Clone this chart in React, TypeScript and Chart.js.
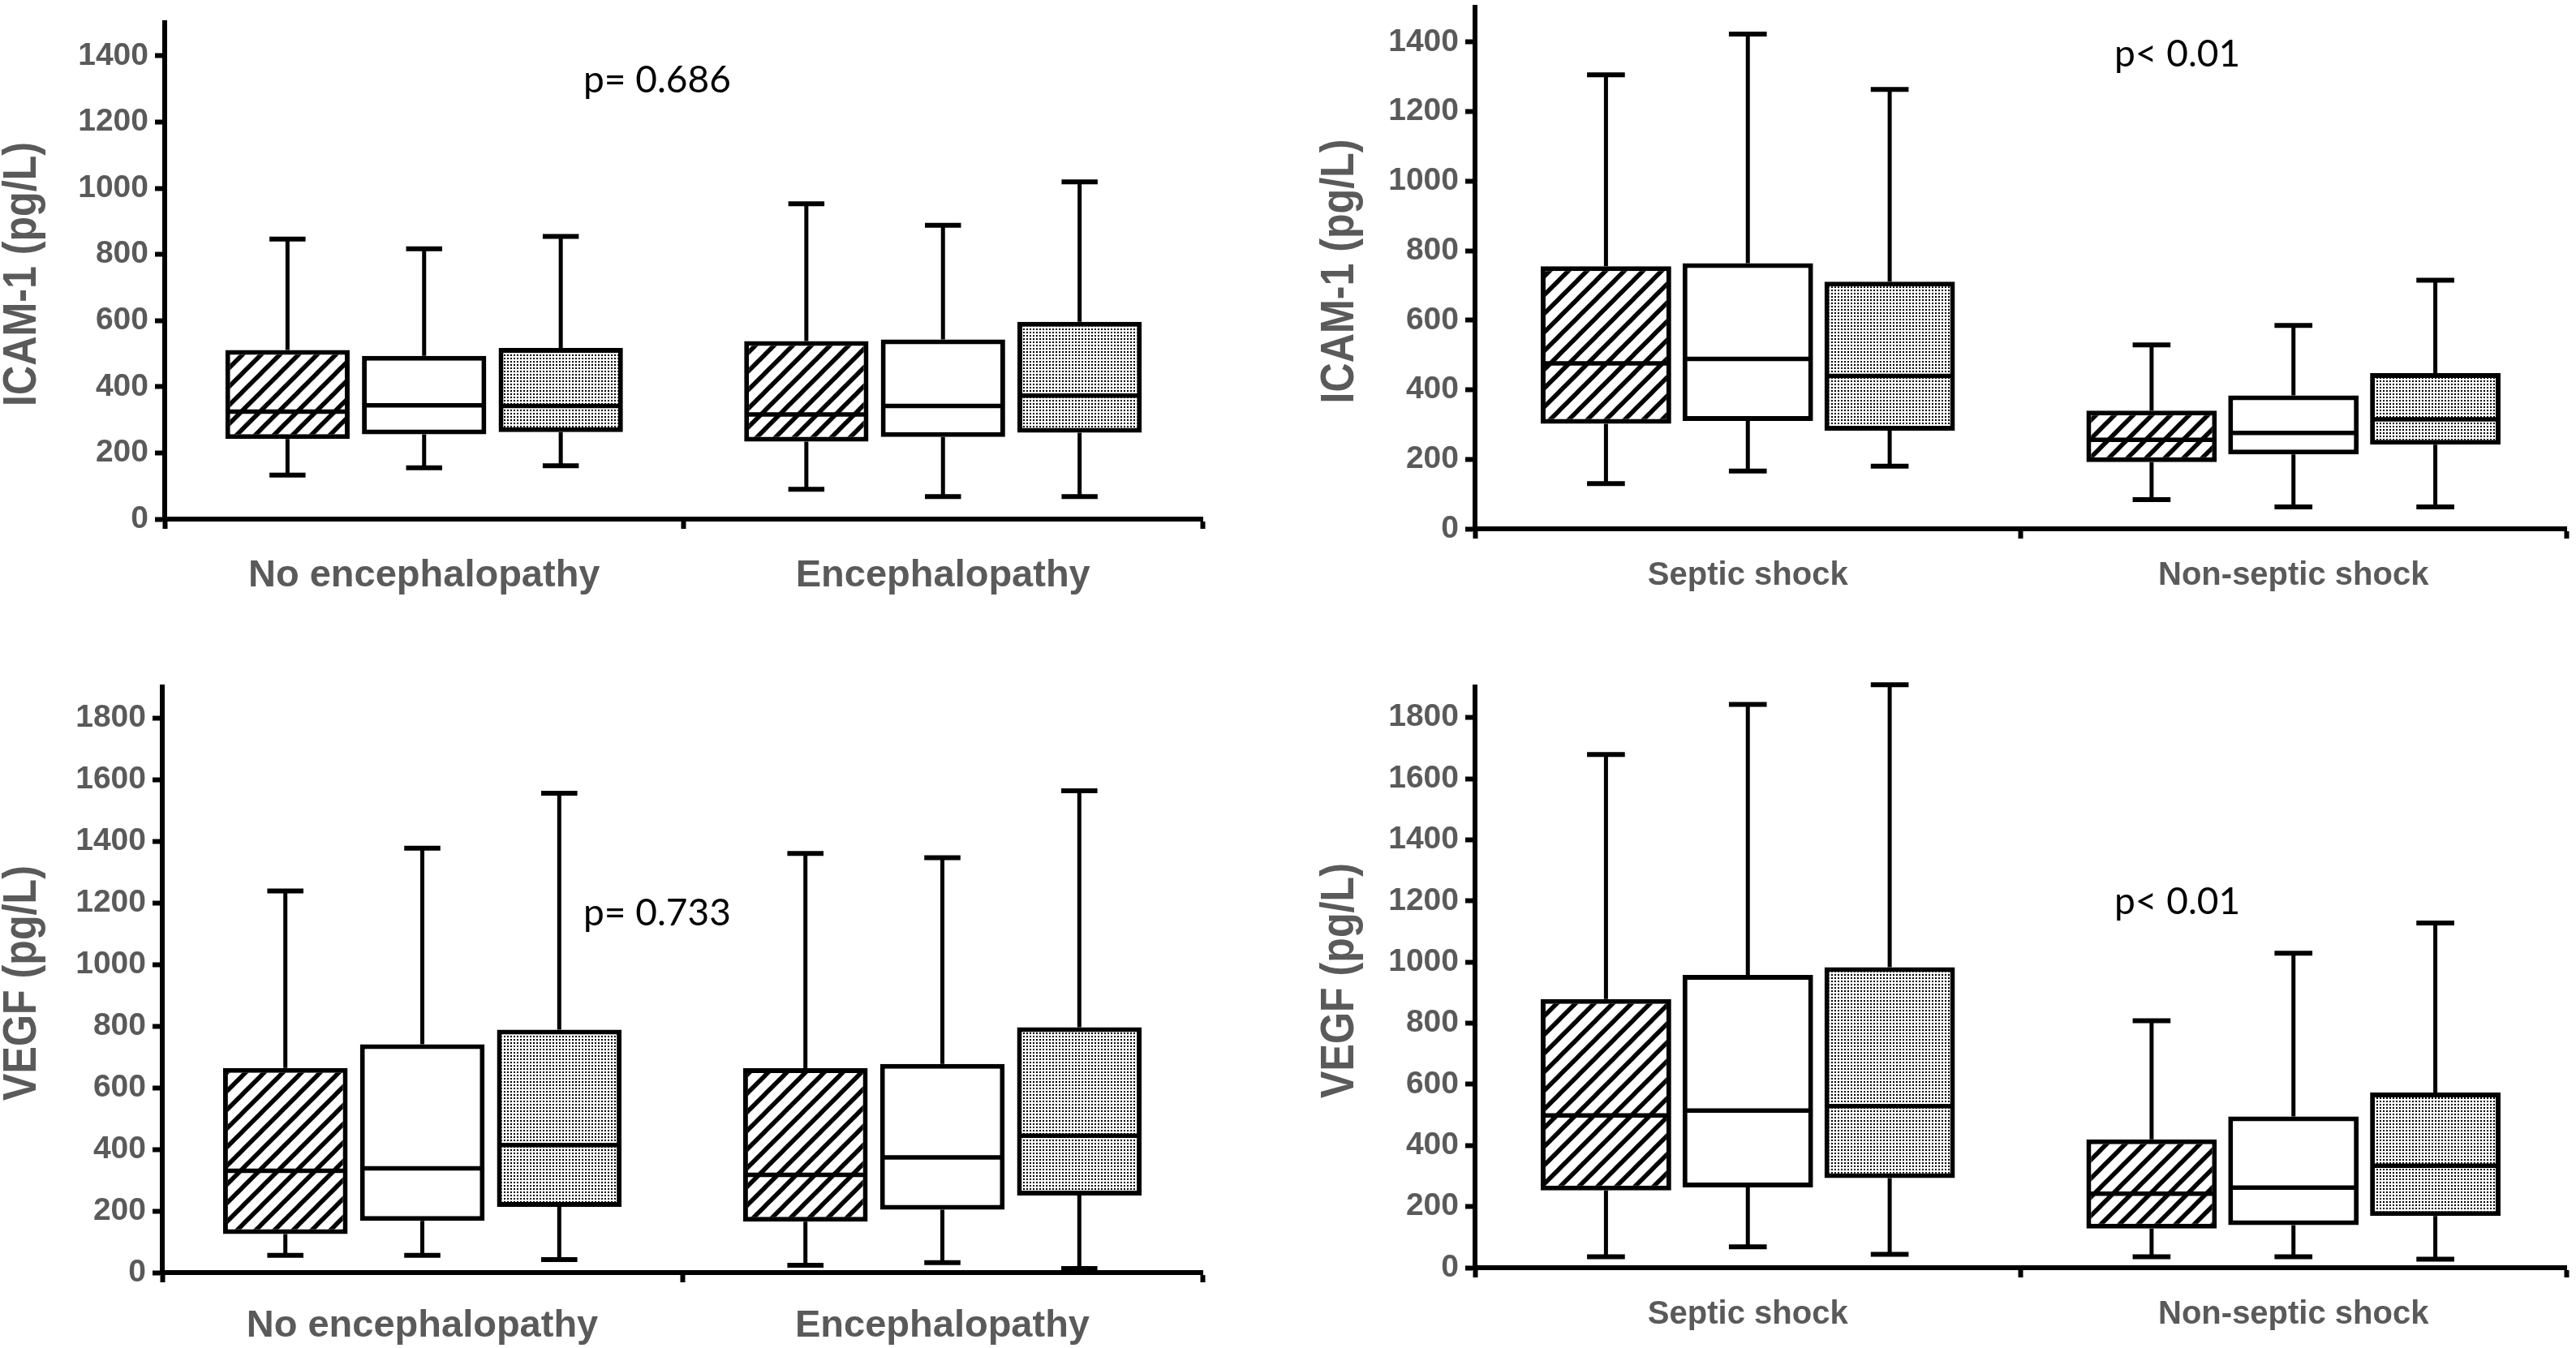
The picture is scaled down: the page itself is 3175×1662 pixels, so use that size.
import React, { useEffect, useRef } from 'react';
import { Chart, registerables } from 'chart.js';

Chart.register(...registerables);

// ---------- DATA ----------
// Each entry: [min, q1, median, q3, max] for one category
const encCategories = ['No encephalopathy', 'Encephalopathy'];
const shockCategories = ['Septic shock', 'Non-septic shock'];

const icamEncHatched = [[133, 242, 325, 511, 846], [90, 234, 316, 538, 953]];
const icamEncOpen = [[155, 256, 344, 493, 817], [68, 248, 342, 543, 888]];
const icamEncDotted = [[161, 263, 342, 517, 854], [68, 261, 373, 596, 1019]];

const vegfEncHatched = [[56, 125, 330, 664, 1238], [24, 165, 317, 663, 1360]];
const vegfEncOpen = [[56, 168, 338, 741, 1377], [32, 204, 374, 677, 1346]];
const vegfEncDotted = [[42, 213, 414, 788, 1555], [13, 250, 444, 796, 1563]];

const icamShockHatched = [[130, 302, 476, 755, 1306], [84, 192, 256, 340, 529]];
const icamShockOpen = [[166, 310, 489, 764, 1423], [63, 214, 276, 384, 585]];
const icamShockDotted = [[180, 282, 440, 711, 1264], [63, 242, 315, 448, 715]];

const vegfShockHatched = [[36, 253, 498, 879, 1679], [36, 128, 242, 420, 808]];
const vegfShockOpen = [[68, 263, 514, 958, 1843], [36, 139, 262, 495, 1029]];
const vegfShockDotted = [[44, 293, 529, 983, 1907], [28, 169, 334, 573, 1128]];

const icamTitle = 'ICAM-1 (pg/L)';
const vegfTitle = 'VEGF (pg/L)';
const icamMax = 1500;
const vegfMax = 1900;
const tickStep = 200;

const pEnc1 = 'p= 0.686';
const pEnc2 = 'p= 0.733';
const pShock = 'p< 0.01';

const FONT = "'Liberation Sans', Arial, sans-serif";
const GREY = '#5a5a5a';

// ---------- PATTERNS ----------
function makeHatch(): CanvasPattern | string {
  const s = 23;
  const c = document.createElement('canvas');
  c.width = s; c.height = s;
  const g = c.getContext('2d');
  if (!g) return '#fff';
  g.fillStyle = '#fff';
  g.fillRect(0, 0, s, s);
  g.strokeStyle = '#000';
  g.lineWidth = 5.5;
  for (const o of [-s, 0, s]) {
    g.beginPath();
    g.moveTo(o - 2, s + 2);
    g.lineTo(o + s + 2, -2);
    g.stroke();
  }
  const ctx = document.createElement('canvas').getContext('2d');
  return ctx ? (ctx.createPattern(c, 'repeat') as CanvasPattern) : '#fff';
}

function makeDots(): CanvasPattern | string {
  const s = 4;
  const c = document.createElement('canvas');
  c.width = s; c.height = s;
  const g = c.getContext('2d');
  if (!g) return '#ccc';
  g.fillStyle = '#fff';
  g.fillRect(0, 0, s, s);
  g.fillStyle = '#000';
  g.fillRect(1, 1, 2, 2);
  const ctx = document.createElement('canvas').getContext('2d');
  return ctx ? (ctx.createPattern(c, 'repeat') as CanvasPattern) : '#ccc';
}

// ---------- WHISKERS / MEDIAN PLUGIN ----------
const boxPlugin = {
  id: 'boxWhiskers',
  afterDatasetsDraw(chart: any) {
    const ctx = chart.ctx;
    const ys = chart.scales.y;
    chart.data.datasets.forEach((ds: any, i: number) => {
      const meta = chart.getDatasetMeta(i);
      meta.data.forEach((el: any, j: number) => {
        const st = ds.stats[j];
        const [mn, q1, md, q3, mx] = st;
        const { x, width } = el.getProps(['x', 'width'], true);
        const py = (v: number) => ys.getPixelForValue(v);
        const half = width / 2;
        const cap = width * 0.29;
        ctx.save();
        ctx.strokeStyle = '#000';
        ctx.lineCap = 'butt';
        ctx.lineWidth = 5;
        ctx.beginPath();
        ctx.moveTo(x, py(q3));
        ctx.lineTo(x, py(mx));
        ctx.moveTo(x, py(q1));
        ctx.lineTo(x, py(mn));
        ctx.stroke();
        ctx.lineWidth = 6;
        ctx.beginPath();
        ctx.moveTo(x - cap / 2, py(mx));
        ctx.lineTo(x + cap / 2, py(mx));
        ctx.moveTo(x - cap / 2, py(mn));
        ctx.lineTo(x + cap / 2, py(mn));
        ctx.stroke();
        ctx.lineWidth = 5.5;
        ctx.beginPath();
        ctx.moveTo(x - half + 3, py(md));
        ctx.lineTo(x + half - 3, py(md));
        ctx.stroke();
        ctx.restore();
      });
    });
  },
};

// ---------- Y TITLE PLUGIN (slightly condensed, rotated) ----------
const yTitlePlugin = {
  id: 'yTitle',
  afterDraw(chart: any, _args: any, opts: any) {
    if (!opts || !opts.text) return;
    const { ctx, chartArea } = chart;
    ctx.save();
    ctx.translate(opts.x, (chartArea.top + chartArea.bottom) / 2 + (opts.dy || 0));
    ctx.rotate(-Math.PI / 2);
    ctx.scale(0.88, 1);
    ctx.font = `bold ${opts.size}px ${FONT}`;
    ctx.fillStyle = GREY;
    ctx.textAlign = 'center';
    ctx.textBaseline = 'middle';
    ctx.fillText(opts.text, 0, 0);
    ctx.restore();
  },
};

type PanelProps = {
  left: number; top: number; width: number; height: number;
  categories: string[];
  series: number[][][];
  yMax: number;
  title: string;
  titleX: number;
  yAxisWidth: number;
  xAxisHeight: number;
  padTop: number;
  padRight: number;
  labelPad: number;
  xFontSize: number;
  catPct: number;
  barPct: number;
};

function Panel(p: PanelProps) {
  const ref = useRef<HTMLCanvasElement>(null);
  useEffect(() => {
    if (!ref.current) return;
    const fills = [makeHatch(), '#ffffff', makeDots()];
    const chart = new Chart(ref.current, {
      type: 'bar',
      data: {
        labels: p.categories,
        datasets: p.series.map((s, i) => ({
          data: s.map((v) => [v[1], v[3]]),
          stats: s,
          backgroundColor: fills[i],
          borderColor: '#000',
          borderWidth: 6,
          borderSkipped: false,
          categoryPercentage: p.catPct,
          barPercentage: p.barPct,
        })) as any,
      },
      options: {
        animation: false,
        responsive: false,
        maintainAspectRatio: false,
        layout: { padding: { top: p.padTop, right: p.padRight, left: 0, bottom: 0 } },
        plugins: {
          legend: { display: false },
          tooltip: { enabled: false },
          yTitle: { text: p.title, x: p.titleX, size: 57, dy: 4 },
        },
        scales: {
          x: {
            type: 'category',
            offset: true,
            grid: { offset: true, drawOnChartArea: false, tickLength: 12, tickWidth: 6, color: '#000' },
            border: { width: 6, color: '#000' },
            ticks: {
              color: GREY,
              font: { family: FONT, weight: 'bold', size: p.xFontSize },
              padding: p.labelPad,
              maxRotation: 0,
            },
            afterFit: (s: any) => { s.height = p.xAxisHeight; s.paddingLeft = 0; s.paddingRight = 0; },
          },
          y: {
            min: 0,
            max: p.yMax,
            grid: { drawOnChartArea: false, tickLength: 12, tickWidth: 6, color: '#000' },
            border: { width: 6, color: '#000' },
            ticks: {
              stepSize: tickStep,
              includeBounds: false,
              color: GREY,
              font: { family: FONT, weight: 'bold', size: 39 },
              padding: 8,
              callback: (v: any) => String(v),
            },
            afterFit: (s: any) => { s.width = p.yAxisWidth; s.paddingTop = 0; s.paddingBottom = 0; },
          },
        },
      } as any,
      plugins: [boxPlugin, yTitlePlugin],
    });
    return () => chart.destroy();
  }, []);
  return (
    <canvas
      ref={ref}
      width={p.width}
      height={p.height}
      style={{ position: 'absolute', left: p.left, top: p.top, width: p.width, height: p.height }}
    />
  );
}

const pStyle: React.CSSProperties = {
  position: 'absolute',
  fontFamily: "Lato, 'Open Sans', sans-serif",
  fontSize: 46,
  lineHeight: '46px',
  color: '#000',
  whiteSpace: 'nowrap',
};

export default function App() {
  return (
    <div style={{ position: 'absolute', left: 0, top: 0, width: 3175, height: 1662, background: '#fff', overflow: 'hidden' }}>
      <Panel
        left={0} top={0} width={1500} height={760}
        categories={encCategories}
        series={[icamEncHatched, icamEncOpen, icamEncDotted]}
        yMax={icamMax} title={icamTitle} titleX={28}
        yAxisWidth={203} xAxisHeight={120} padTop={28} padRight={18}
        labelPad={30} xFontSize={47}
        catPct={0.79} barPct={0.91}
      />
      <Panel
        left={0} top={820} width={1500} height={842}
        categories={encCategories}
        series={[vegfEncHatched, vegfEncOpen, vegfEncDotted]}
        yMax={vegfMax} title={vegfTitle} titleX={28}
        yAxisWidth={200} xAxisHeight={93} padTop={27} padRight={18}
        labelPad={26} xFontSize={47}
        catPct={0.79} barPct={0.91}
      />
      <Panel
        left={1600} top={0} width={1575} height={770}
        categories={shockCategories}
        series={[icamShockHatched, icamShockOpen, icamShockDotted]}
        yMax={icamMax} title={icamTitle} titleX={52}
        yAxisWidth={218} xAxisHeight={118} padTop={9} padRight={12}
        labelPad={22} xFontSize={40}
        catPct={0.78} barPct={0.92}
      />
      <Panel
        left={1600} top={820} width={1575} height={842}
        categories={shockCategories}
        series={[vegfShockHatched, vegfShockOpen, vegfShockDotted]}
        yMax={vegfMax} title={vegfTitle} titleX={52}
        yAxisWidth={218} xAxisHeight={99} padTop={27} padRight={12}
        labelPad={22} xFontSize={40}
        catPct={0.78} barPct={0.92}
      />
      <div style={{ ...pStyle, left: 719, top: 74 }}>{pEnc1}</div>
      <div style={{ ...pStyle, left: 719, top: 1101 }}>{pEnc2}</div>
      <div style={{ ...pStyle, left: 2606, top: 42 }}>{pShock}</div>
      <div style={{ ...pStyle, left: 2606, top: 1087 }}>{pShock}</div>
    </div>
  );
}
